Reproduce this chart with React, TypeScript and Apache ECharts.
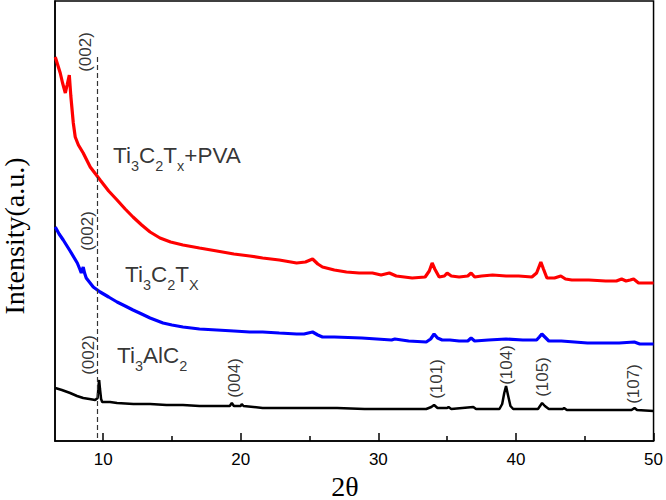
import React, { useEffect, useRef } from "react";
import * as echarts from "echarts";

// ---- data (2θ in degrees, intensity in arbitrary units) ----
const red2Theta = [6.52, 6.7, 6.88, 7.05, 7.25, 7.38, 7.54, 7.65, 7.83, 7.97, 8.2, 8.55, 9.06, 9.78, 10.4, 11.01, 11.6, 12.17, 12.8, 13.41, 14.13, 14.9, 15.8, 17.0, 18.26, 19.5, 20.65, 21.59, 22.8, 24.06, 24.7, 25.22, 25.6, 25.94, 26.8, 27.68, 28.6, 29.57, 30.2, 30.8, 31.3, 32.46, 33.4, 33.7, 33.91, 34.1, 34.42, 34.8, 35.0, 35.3, 35.87, 36.5, 36.74, 37.0, 37.5, 38.3, 39.28, 40.2, 41.16, 41.5, 41.81, 42.0, 42.25, 42.8, 43.26, 43.6, 44.06, 45.3, 46.52, 47.3, 47.68, 48.0, 48.3, 48.55, 48.91, 49.5, 50];
const redIntensity = [384, 376, 368, 358, 348, 356, 366, 345, 318, 304, 296, 288, 274, 261, 250, 241, 232, 224, 216, 209, 203, 199, 196, 193, 190, 187, 185, 183, 181, 178, 179, 182, 177, 174, 171, 169, 168, 168, 166, 168, 165, 163, 164, 170, 178, 172, 164, 165, 168, 165, 164, 165, 168, 164, 165, 166, 165, 165, 164, 168, 179, 172, 163, 163, 165, 162, 161, 161, 160, 160, 162, 160, 161, 162, 158, 158, 158];

const blue2Theta = [6.52, 6.8, 7.1, 7.6, 8.12, 8.3, 8.41, 8.55, 8.65, 8.77, 9.28, 9.78, 10.4, 11.01, 11.6, 12.17, 12.8, 13.41, 14.35, 15.0, 15.8, 17.0, 18.26, 19.5, 20.65, 21.59, 22.8, 24.06, 24.6, 25.22, 25.6, 25.94, 26.8, 28.8, 30.96, 31.2, 32.2, 33.48, 33.8, 34.05, 34.3, 34.64, 35.2, 35.87, 36.5, 36.74, 37.0, 38.0, 39.28, 40.5, 41.5, 41.7, 41.88, 42.1, 42.39, 43.3, 45.2, 47.5, 48.6, 49.0, 50];
const blueIntensity = [214, 207, 201, 190, 178, 172, 168, 174, 168, 163, 154, 149, 144, 139, 135, 131, 127, 123, 118, 116, 114, 112, 111, 110, 109, 109, 108, 107, 107, 109, 106, 104, 104, 103, 101, 102, 100, 99, 102, 107, 103, 101, 101, 100, 100, 103, 100, 101, 102, 101, 101, 104, 107, 104, 100, 100, 98, 98, 99, 97, 97];

const black2Theta = [6.52, 7.0, 7.6, 8.1, 8.55, 9.0, 9.42, 9.6, 9.66, 9.71, 9.77, 9.85, 9.93, 10.5, 11.01, 12.2, 13.41, 14.6, 15.8, 17.0, 18.26, 19.2, 19.35, 19.5, 20.0, 20.07, 20.2, 21.59, 23, 25, 27, 29, 31, 33.48, 33.85, 34.05, 34.3, 35.0, 35.1, 35.3, 36.9, 37.1, 38.8, 39.0, 39.15, 39.28, 39.42, 39.6, 39.8, 40.5, 41.6, 41.8, 41.9, 42.1, 42.39, 43.4, 43.5, 43.7, 46.52, 48.4, 48.62, 48.8, 50];
const blackIntensity = [53, 51, 48, 45, 43, 42, 41, 43, 55, 61, 52, 42, 39, 39, 38, 37, 37, 36, 36, 35, 35, 35, 38, 35, 35, 37, 35, 33, 33, 33, 33, 32, 32, 32, 34, 36, 33, 33, 34, 32, 34, 32, 32, 37, 48, 55, 46, 35, 32, 32, 32, 36, 38, 35, 32, 32, 33, 31, 31, 31, 33, 31, 30];

// peak (hkl) annotations
const peakText = ["(002)", "(002)", "(002)", "(004)", "(101)", "(104)", "(105)", "(107)"];
const peak2Theta = [8.7, 8.84, 8.91, 19.57, 34.2, 39.28, 41.96, 48.55];
const peakIntensity = [389, 210, 86, 63, 62, 76, 64, 57];

// sample names
const sampleRich = [
  "{n|Ti}{s|3}{n|C}{s|2}{n|T}{s|x}{n|+PVA}",
  "{n|Ti}{s|3}{n|C}{s|2}{n|T}{s|X}",
  "{n|Ti}{s|3}{n|AlC}{s|2}",
];
const sample2Theta = [10.72, 11.59, 11.01];
const sampleIntensity = [297, 178, 97];

// (002) reference dashed line
const dashLine2Theta = 9.57;
const dashLineTop = 384;

const xMajorTicks = [10, 20, 30, 40, 50];
const xMinorTicks = [15, 25, 35, 45];

const zip = (a: number[], b: number[]) => a.map((v, i) => [v, b[i]]);

export default function App() {
  const ref = useRef<HTMLDivElement>(null);
  useEffect(() => {
    if (!ref.current) return;
    const chart = echarts.init(ref.current, null, { renderer: "svg" });
    const sans = "'Liberation Sans', Arial, sans-serif";
    const serif = "'Liberation Serif', 'Times New Roman', serif";
    chart.setOption({
      animation: false,
      backgroundColor: "#fff",
      grid: {
        left: 55,
        right: 11,
        top: 1,
        bottom: 59,
        show: true,
        borderColor: "#000",
        borderWidth: 1.5,
        backgroundColor: "transparent",
      },
      xAxis: [
        {
          type: "value",
          min: 6.5,
          max: 50,
          axisLine: { show: true, lineStyle: { color: "#000", width: 1.5 } },
          axisTick: {
            show: true,
            inside: true,
            length: 8,
            customValues: xMajorTicks,
            lineStyle: { color: "#000", width: 1.5 },
          },
          axisLabel: {
            show: true,
            customValues: xMajorTicks,
            margin: 10,
            color: "#000",
            fontSize: 17,
            fontFamily: sans,
          },
          splitLine: { show: false },
        },
        {
          type: "value",
          min: 6.5,
          max: 50,
          position: "bottom",
          axisLine: { show: false },
          axisTick: {
            show: true,
            inside: true,
            length: 5,
            customValues: xMinorTicks,
            lineStyle: { color: "#000", width: 1.5 },
          },
          axisLabel: { show: false },
          splitLine: { show: false },
        },
      ],
      yAxis: {
        type: "value",
        min: 0,
        max: 440,
        axisLine: { show: true, lineStyle: { color: "#000", width: 1.5 } },
        axisTick: { show: false },
        axisLabel: { show: false },
        splitLine: { show: false },
      },
      graphic: [
        {
          type: "text",
          x: 14,
          y: 236,
          rotation: Math.PI / 2,
          style: {
            text: "Intensity(a.u.)",
            font: `28px ${serif}`,
            fill: "#000",
            align: "center",
            verticalAlign: "middle",
          },
        },
        {
          type: "text",
          x: 345,
          y: 486,
          style: {
            text: "2θ",
            font: `28px ${serif}`,
            fill: "#000",
            align: "center",
            verticalAlign: "middle",
          },
        },
      ],
      series: [
        {
          name: "Ti3AlC2",
          type: "line",
          data: zip(black2Theta, blackIntensity),
          showSymbol: false,
          lineStyle: { color: "#000", width: 2.5 },
          z: 3,
          markLine: {
            silent: true,
            symbol: ["none", "none"],
            label: { show: false },
            lineStyle: { color: "#333", width: 1.2, type: [5, 3] },
            data: [[{ coord: [dashLine2Theta, dashLineTop] }, { coord: [dashLine2Theta, 0] }]],
          },
        },
        {
          name: "Ti3C2Tx",
          type: "line",
          data: zip(blue2Theta, blueIntensity),
          showSymbol: false,
          lineStyle: { color: "#0000ff", width: 3.2 },
          z: 3,
        },
        {
          name: "Ti3C2Tx+PVA",
          type: "line",
          data: zip(red2Theta, redIntensity),
          showSymbol: false,
          lineStyle: { color: "#ff0000", width: 3.2 },
          z: 3,
        },
        {
          name: "peaks",
          type: "scatter",
          symbolSize: 0,
          silent: true,
          data: peakText.map((t, i) => ({ value: [peak2Theta[i], peakIntensity[i]], name: t })),
          label: {
            show: true,
            position: "inside",
            rotate: 90,
            formatter: (p: any) => p.name,
            color: "#000",
            fontSize: 17,
            fontFamily: sans,
          },
        },
        {
          name: "samples",
          type: "scatter",
          symbolSize: 0,
          silent: true,
          data: sampleRich.map((t, i) => ({ value: [sample2Theta[i], sampleIntensity[i]], name: t })),
          label: {
            show: true,
            position: [0, 0],
            align: "left",
            verticalAlign: "top",
            formatter: (p: any) => p.name,
            color: "#000",
            rich: {
              n: { fontSize: 22.5, lineHeight: 22, verticalAlign: "top", fontFamily: sans, color: "#000" },
              s: {
                fontSize: 14.5,
                lineHeight: 14,
                verticalAlign: "top",
                padding: [14, 0, 0, 0],
                fontFamily: sans,
                color: "#000",
              },
            },
          },
        },
      ],
    });
    return () => chart.dispose();
  }, []);
  return (
    <div
      ref={ref}
      style={{ position: "fixed", left: 0, top: 0, width: 666, height: 500, background: "#fff" }}
    />
  );
}
